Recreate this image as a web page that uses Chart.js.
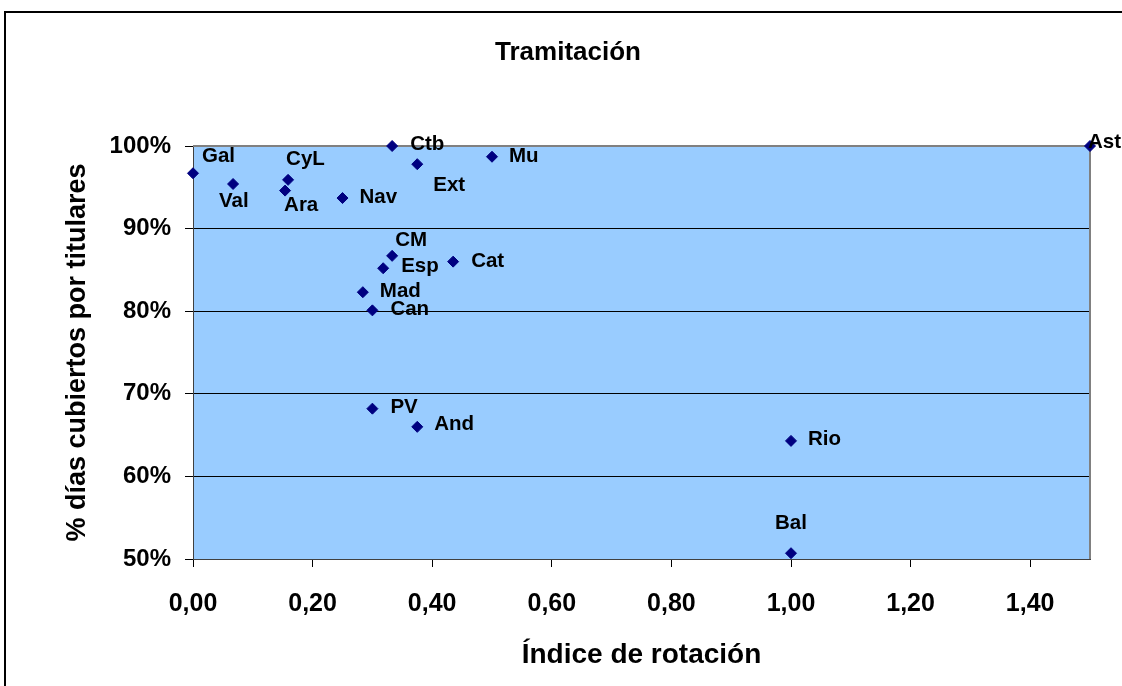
<!DOCTYPE html>
<html>
<head>
<meta charset="utf-8">
<script src="https://cdn.jsdelivr.net/npm/chart.js@4"></script>
<style>
  html, body { margin: 0; padding: 0; background: #fff; }
  canvas { display: block; }
</style>
</head>
<body>
<canvas id="chart" width="1122" height="686"></canvas>
<script>
// data
const regions = ['Gal', 'Val', 'CyL', 'Ara', 'Nav', 'Ctb', 'Ext', 'Mu', 'CM', 'Esp', 'Cat', 'Mad', 'Can', 'PV', 'And', 'Rio', 'Bal', 'Ast'];
const rotation = [0, 0.067, 0.159, 0.154, 0.25, 0.333, 0.375, 0.5, 0.333, 0.318, 0.435, 0.284, 0.3, 0.3, 0.375, 1.0, 1.0, 1.5];
const coverage = [0.967, 0.954, 0.959, 0.946, 0.937, 1.0, 0.978, 0.987, 0.867, 0.852, 0.86, 0.823, 0.801, 0.682, 0.66, 0.643, 0.507, 1.0];

const titleText = 'Tramitación';
const xTitle = 'Índice de rotación';
const yTitle = '% días cubiertos por titulares';

// where each data label sits relative to its point
const labelPlace = {
  Gal: [9, -17], Val: [-14, 17], CyL: [-2, -21], Ara: [-1, 15], Nav: [17, -1],
  Ctb: [18, -2], Ext: [16, 21], Mu: [17, 0], CM: [3, -16], Esp: [18, -2],
  Cat: [18, 0], Mad: [17, -1], Can: [18, -1], PV: [18, -1], And: [17, -2],
  Rio: [17, -2], Bal: [0, -30, 'center'], Ast: [-2, -4]
};

const FONT = "'Liberation Sans', Arial, sans-serif";
Chart.defaults.font.family = FONT;
Chart.defaults.color = '#000';

const decor = {
  id: 'decor',
  beforeDraw(chart) {
    const { ctx, chartArea: a } = chart;
    ctx.save();
    ctx.fillStyle = '#fff';
    ctx.fillRect(0, 0, chart.width, chart.height);
    ctx.fillStyle = '#99ccff';
    ctx.fillRect(a.left, a.top, a.right - a.left, a.bottom - a.top);
    // outer chart frame
    ctx.strokeStyle = '#000';
    ctx.lineWidth = 2;
    ctx.beginPath();
    ctx.moveTo(5, chart.height);
    ctx.lineTo(5, 12);
    ctx.lineTo(chart.width, 12);
    ctx.stroke();
    ctx.restore();
  },
  beforeDatasetsDraw(chart) {
    const { ctx, chartArea: a } = chart;
    ctx.save();
    ctx.strokeStyle = '#808080';
    ctx.lineWidth = 2;
    ctx.beginPath();
    ctx.moveTo(a.left, a.top);
    ctx.lineTo(a.right, a.top);
    ctx.lineTo(a.right, a.bottom);
    ctx.stroke();
    ctx.restore();
  },
  afterDatasetsDraw(chart) {
    const { ctx } = chart;
    const pts = chart.getDatasetMeta(0).data;
    ctx.save();
    ctx.fillStyle = '#000';
    ctx.font = 'bold 20.5px ' + FONT;
    ctx.textBaseline = 'middle';
    pts.forEach((p, i) => {
      const name = regions[i];
      const pl = labelPlace[name] || [16, 0];
      ctx.textAlign = pl[2] || 'left';
      ctx.fillText(name, p.x + pl[0], p.y + pl[1]);
    });
    // chart title
    ctx.font = 'bold 26px ' + FONT;
    ctx.textAlign = 'center';
    ctx.fillText(titleText, 568, 53);
    ctx.restore();
  }
};

new Chart(document.getElementById('chart').getContext('2d'), {
  type: 'scatter',
  data: {
    datasets: [{
      label: 'Regiones',
      data: rotation.map((x, i) => ({ x: x, y: coverage[i] })),
      pointStyle: 'rectRot',
      pointRadius: 5.5,
      pointHoverRadius: 5.5,
      backgroundColor: '#000080',
      borderColor: '#000080',
      borderWidth: 1,
      clip: false
    }]
  },
  options: {
    responsive: false,
    animation: false,
    devicePixelRatio: 1,
    layout: { padding: { left: 0, top: 146, right: 32, bottom: 0 } },
    plugins: {
      legend: { display: false },
      title: { display: false },
      tooltip: { enabled: false }
    },
    scales: {
      x: {
        type: 'linear',
        min: 0,
        max: 1.5,
        afterFit(s) { s.height = 127; },
        ticks: {
          stepSize: 0.2,
          includeBounds: false,
          padding: 22,
          font: { size: 25, weight: 'bold' },
          callback: v => v.toFixed(2).replace('.', ',')
        },
        grid: { drawOnChartArea: false, drawTicks: true, tickLength: 8, color: '#000' },
        border: { display: true, color: '#404040', width: 1 },
        title: {
          display: true,
          text: xTitle,
          font: { size: 28, weight: 'bold' },
          padding: { top: 0, bottom: 14 }
        }
      },
      y: {
        type: 'linear',
        min: 0.5,
        max: 1.0,
        afterFit(s) { s.width = 193; },
        ticks: {
          stepSize: 0.1,
          padding: 14,
          font: { size: 24, weight: 'bold' },
          callback: v => Math.round(v * 100) + '%'
        },
        grid: { color: '#000', lineWidth: 1, tickLength: 8 },
        border: { display: true, color: '#404040', width: 1 },
        title: {
          display: true,
          text: yTitle,
          font: { size: 27, weight: 'bold' },
          padding: { top: 61, bottom: 0 }
        }
      }
    }
  },
  plugins: [decor]
});
</script>
</body>
</html>
